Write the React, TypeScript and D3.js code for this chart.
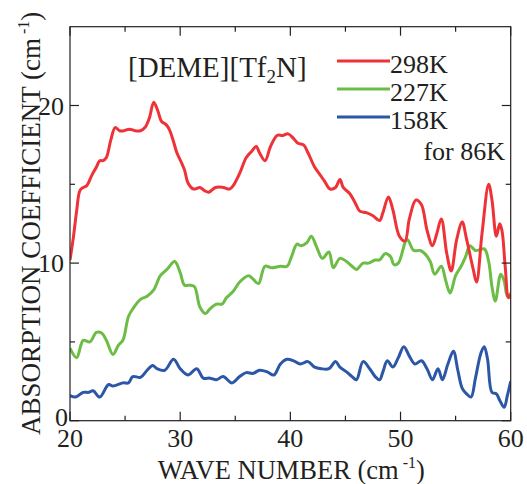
import React from "react";
import * as d3 from "d3";

// 298K (red)
const redWave = [20, 20.3, 20.6, 20.9, 21.2, 21.5, 22.0, 22.4, 22.7, 23.0, 23.3, 23.7, 24.1, 24.5, 24.9, 25.4, 25.9, 26.4, 26.8, 27.2, 27.6, 28.0, 28.3, 28.7, 29.0, 29.4, 29.7, 30.1, 30.4, 30.7, 31.2, 31.8, 32.2, 32.6, 33.2, 33.9, 34.5, 34.8, 35.4, 36.0, 36.5, 36.9, 37.2, 37.7, 38.2, 38.8, 39.3, 39.8, 40.3, 40.7, 41.2, 41.6, 42.2, 42.7, 43.1, 43.6, 44.1, 44.5, 44.8, 45.4, 45.9, 46.3, 46.9, 47.5, 48.1, 48.4, 48.9, 49.3, 49.9, 50.4, 50.8, 51.4, 51.9, 52.4, 52.9, 53.3, 53.7, 54.2, 54.6, 55.1, 55.6, 56.0, 56.6, 56.9, 57.4, 58.0, 58.3, 58.7, 59.0, 59.2, 59.5, 59.8, 60];
const redAbs = [10.2, 11.6, 13.3, 14.6, 14.8, 14.9, 15.6, 16.1, 16.5, 16.5, 16.7, 17.8, 18.6, 18.4, 18.4, 18.5, 18.4, 18.4, 18.6, 19.2, 20.2, 19.6, 19.0, 18.8, 18.5, 17.7, 17.0, 16.4, 15.9, 15.1, 14.7, 14.8, 14.6, 14.5, 14.8, 14.8, 14.7, 14.9, 15.7, 16.7, 17.1, 17.4, 17.0, 16.5, 17.4, 18.1, 18.1, 18.2, 17.9, 17.6, 17.5, 17.0, 16.1, 15.6, 15.2, 14.7, 14.8, 15.3, 14.8, 14.4, 13.8, 13.3, 13.2, 13.0, 12.7, 13.2, 14.2, 13.4, 11.7, 11.4, 12.8, 14.0, 13.7, 12.1, 11.1, 11.9, 12.8, 10.6, 9.5, 11.5, 12.6, 11.5, 9.6, 8.8, 11.9, 15.0, 14.0, 11.7, 12.5, 12.1, 9.8, 7.8, 8.0];

// 227K (green)
const greenWave = [20, 20.6, 21.2, 21.8, 22.4, 22.9, 23.3, 23.9, 24.4, 24.8, 25.3, 25.7, 26.4, 27.0, 27.6, 28.2, 28.8, 29.5, 30.0, 30.4, 30.9, 31.3, 31.8, 32.3, 32.7, 33.3, 33.8, 34.2, 34.8, 35.4, 36.2, 36.6, 37.1, 37.7, 38.3, 39.1, 39.7, 40.1, 40.6, 41.0, 41.5, 41.9, 42.4, 42.9, 43.5, 43.9, 44.5, 45.1, 45.6, 46.0, 46.6, 47.1, 47.7, 48.1, 48.6, 49.1, 49.4, 49.8, 50.6, 51.2, 51.8, 52.2, 52.7, 53.1, 53.7, 54.1, 54.5, 55.0, 55.5, 55.9, 56.3, 56.8, 57.6, 58.0, 58.3, 58.6, 59.1, 59.4, 59.7, 60];
const greenAbs = [4.6, 4.0, 5.1, 5.0, 5.6, 5.55, 5.1, 4.2, 4.8, 5.1, 6.6, 7.1, 7.7, 7.9, 8.3, 9.2, 9.6, 10.1, 9.4, 8.6, 8.6, 8.5, 7.2, 6.8, 7.1, 7.4, 7.4, 7.8, 8.2, 8.8, 9.2, 9.0, 8.7, 9.8, 9.7, 9.8, 9.8, 10.4, 11.2, 11.1, 11.3, 11.7, 11.0, 10.3, 10.7, 9.7, 10.3, 10.1, 9.8, 9.6, 10.0, 10.0, 10.2, 10.2, 10.6, 10.4, 9.9, 10.0, 11.5, 10.8, 10.8, 10.6, 10.1, 9.3, 9.8, 8.9, 8.1, 9.2, 9.8, 10.4, 11.1, 10.8, 10.9, 10.1, 8.5, 7.6, 9.3, 8.9, 7.9, 8.1];

// 158K (blue)
const blueWave = [20, 20.5, 21.2, 21.7, 22.1, 22.7, 23.5, 23.9, 24.8, 25.3, 25.7, 26.4, 27.0, 27.5, 27.9, 28.6, 29.4, 30.0, 30.7, 31.5, 32.1, 32.7, 33.3, 33.9, 34.7, 35.4, 36.0, 36.6, 37.2, 37.9, 38.5, 39.1, 39.7, 40.3, 40.9, 41.6, 42.2, 42.8, 43.5, 44.1, 44.5, 45.1, 45.6, 46.0, 46.6, 47.2, 47.7, 48.1, 48.4, 48.8, 49.3, 49.8, 50.3, 50.8, 51.3, 51.9, 52.4, 52.9, 53.4, 53.8, 54.3, 54.8, 55.2, 55.6, 56.0, 56.4, 56.8, 57.3, 57.6, 57.9, 58.3, 58.7, 59.0, 59.4, 59.7, 60];
const blueAbs = [1.6, 1.5, 1.8, 1.8, 1.9, 1.5, 2.3, 2.2, 2.4, 2.4, 2.8, 2.75, 3.2, 3.5, 3.3, 3.2, 3.9, 3.3, 2.9, 3.3, 2.7, 2.7, 2.6, 2.8, 2.4, 2.8, 3.05, 3.0, 3.2, 3.1, 2.9, 3.6, 3.9, 3.8, 3.6, 3.75, 3.4, 3.3, 3.3, 3.75, 3.4, 3.1, 2.8, 2.6, 3.75, 3.3, 2.8, 2.6, 3.1, 3.8, 3.4, 4.0, 4.7, 4.1, 3.6, 3.8, 3.3, 2.6, 3.3, 2.6, 3.6, 4.4, 3.2, 2.05, 1.7, 1.5, 2.7, 4.3, 4.7, 3.9, 1.8, 1.7, 1.3, 0.85, 1.6, 2.5];

const seriesNames = ["298K", "227K", "158K"];
const seriesColors = ["#ee3237", "#6cbd45", "#2c56a6"];
const xTicks = [20, 30, 40, 50, 60];
const xMinor = [25, 35, 45, 55];
const yTicks = [0, 10, 20];
const yMinor = [5, 15];

const W = 527;
const H = 484;
const margin = { left: 70, right: 16.3, top: 26.7, bottom: 63.3 };
const ink = "#231f20";
const font = "'Liberation Serif', 'Times New Roman', serif";

export default function App() {
  const ref = React.useRef<SVGSVGElement>(null);

  React.useEffect(() => {
    const svg = d3.select(ref.current);
    svg.selectAll("*").remove();

    const x = d3.scaleLinear().domain([20, 60]).range([margin.left, W - margin.right]);
    const y = d3.scaleLinear().domain([0, 25]).range([H - margin.bottom, margin.top]);
    const x0 = x.range()[0], x1 = x.range()[1];
    const y0 = y.range()[0], y1 = y.range()[1];

    const series = [
      { wave: redWave, abs: redAbs },
      { wave: greenWave, abs: greenAbs },
      { wave: blueWave, abs: blueAbs },
    ];

    const line = d3
      .line<[number, number]>()
      .x((d) => x(d[0]))
      .y((d) => y(d[1]))
      .curve(d3.curveCatmullRom.alpha(0.5));

    const plot = svg.append("g");
    plot
      .append("clipPath")
      .attr("id", "clip")
      .append("rect")
      .attr("x", x0)
      .attr("y", y1)
      .attr("width", x1 - x0)
      .attr("height", y0 - y1);

    // curves, blue first so red sits on top
    series
      .map((s, i) => ({ ...s, i }))
      .reverse()
      .forEach((s) => {
        const pts = s.wave.map((w, j) => [w, s.abs[j]] as [number, number]);
        plot
          .append("path")
          .attr("d", line(pts))
          .attr("fill", "none")
          .attr("stroke", seriesColors[s.i])
          .attr("stroke-width", 3)
          .attr("stroke-linejoin", "round")
          .attr("clip-path", "url(#clip)");
      });

    // frame
    svg
      .append("rect")
      .attr("x", x0)
      .attr("y", y1)
      .attr("width", x1 - x0)
      .attr("height", y0 - y1)
      .attr("fill", "none")
      .attr("stroke", ink)
      .attr("stroke-width", 1.2);

    // inward ticks on all sides
    const tk = svg.append("g").attr("stroke", ink).attr("stroke-width", 1.2);
    const xt = [...xTicks.map((v) => ({ v, l: 9 })), ...xMinor.map((v) => ({ v, l: 5 }))];
    xt.forEach(({ v, l }) => {
      tk.append("line").attr("x1", x(v)).attr("x2", x(v)).attr("y1", y0).attr("y2", y0 - l);
      tk.append("line").attr("x1", x(v)).attr("x2", x(v)).attr("y1", y1).attr("y2", y1 + l);
    });
    const yt = [...yTicks.map((v) => ({ v, l: 9 })), ...yMinor.map((v) => ({ v, l: 5 }))];
    yt.forEach(({ v, l }) => {
      tk.append("line").attr("y1", y(v)).attr("y2", y(v)).attr("x1", x0).attr("x2", x0 + l);
      tk.append("line").attr("y1", y(v)).attr("y2", y(v)).attr("x1", x1).attr("x2", x1 - l);
    });

    const txt = svg.append("g").attr("font-family", font).attr("fill", ink);

    // tick labels
    txt
      .selectAll(".xl")
      .data(xTicks)
      .join("text")
      .attr("x", (d) => x(d))
      .attr("y", 447)
      .attr("text-anchor", "middle")
      .attr("font-size", 26)
      .text((d) => d);
    txt
      .selectAll(".yl")
      .data(yTicks)
      .join("text")
      .attr("x", (d) => (d === 0 ? x0 - 2 : x0 - 6))
      .attr("y", (d) => (d === 0 ? y(d) + 5 : y(d) + 9))
      .attr("text-anchor", "end")
      .attr("font-size", 26)
      .text((d) => d);

    // axis titles
    const xl = txt
      .append("text")
      .attr("x", (x0 + x1) / 2 + 1)
      .attr("y", 479)
      .attr("text-anchor", "middle")
      .attr("font-size", 26.5);
    xl.append("tspan").text("WAVE NUMBER (cm");
    xl.append("tspan").attr("font-size", 16).attr("dy", -11).text(" -1");
    xl.append("tspan").attr("dy", 11).text(")");

    const yl = txt
      .append("text")
      .attr("transform", `translate(40,${(y0 + 10) / 2 + 8}) rotate(-90)`)
      .attr("text-anchor", "middle")
      .attr("font-size", 27);
    yl.append("tspan").text("ABSORPTION COEFFICIENT (cm");
    yl.append("tspan").attr("font-size", 16).attr("dy", -11).text(" -1");
    yl.append("tspan").attr("dy", 11).text(")");

    // sample title
    const t = txt.append("text").attr("x", 128).attr("y", 77).attr("font-size", 29);
    t.append("tspan").text("[DEME][Tf");
    t.append("tspan").attr("font-size", 19).attr("dy", 6).text("2");
    t.append("tspan").attr("dy", -6).text("N]");

    // legend
    seriesNames.forEach((name, i) => {
      const ly = 61 + i * 28;
      svg
        .append("line")
        .attr("x1", 337)
        .attr("x2", 390)
        .attr("y1", ly)
        .attr("y2", ly)
        .attr("stroke", seriesColors[i])
        .attr("stroke-width", 3);
      txt.append("text").attr("x", 390).attr("y", ly + 12).attr("font-size", 26).text(name);
    });
    txt
      .append("text")
      .attr("x", 505)
      .attr("y", 160)
      .attr("text-anchor", "end")
      .attr("font-size", 26)
      .text("for 86K");
  }, []);

  return (
    <svg
      ref={ref}
      width={W}
      height={H}
      style={{ position: "absolute", left: 0, top: 0, background: "#fff" }}
    />
  );
}
